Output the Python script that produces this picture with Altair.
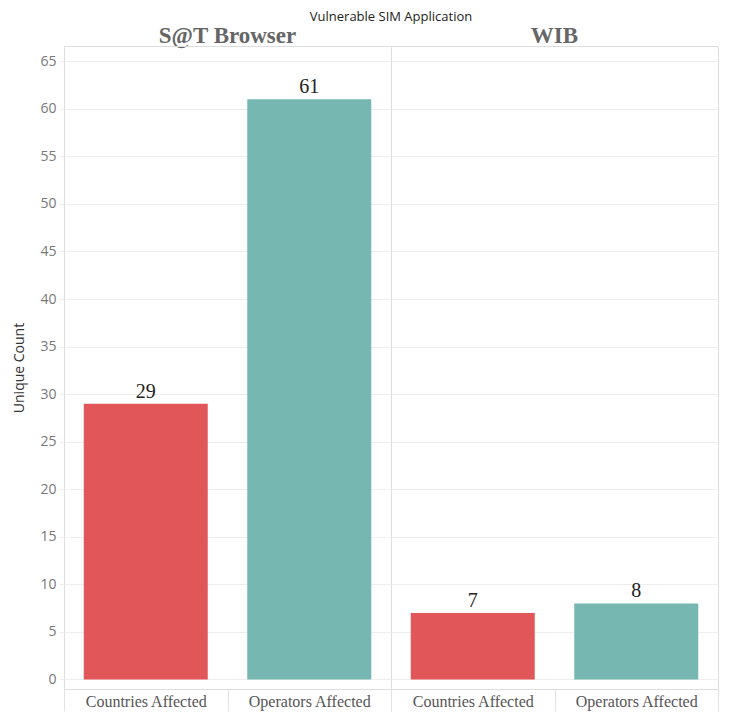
import altair as alt
import pandas as pd

apps = ["S@T Browser", "S@T Browser", "WIB", "WIB"]
metrics = ["Countries Affected", "Operators Affected", "Countries Affected", "Operators Affected"]
counts = [29, 61, 7, 8]

df = pd.DataFrame({"app": apps, "metric": metrics, "count": counts})

SERIF = "Liberation Serif"
SANS = "Open Sans"

x = alt.X(
    "metric:N",
    title=None,
    scale=alt.Scale(paddingInner=0, paddingOuter=0),
    axis=alt.Axis(
        labelAngle=0, labelFont=SERIF, labelFontSize=16, labelColor="#555555",
        labelPadding=-18, domainColor="#cccccc", tickColor="#e2e2e2",
        tickBand="extent", tickSize=22, labelBaseline="top",
    ),
)
y = alt.Y(
    "count:Q",
    title="Unique Count",
    scale=alt.Scale(domain=[-1.0, 66.6], nice=False, zero=False),
    axis=alt.Axis(
        values=list(range(0, 70, 5)), labelFont=SANS, labelFontSize=14,
        labelColor="#777777", titleFont=SANS, titleFontSize=14,
        titleFontWeight="normal", titleColor="#333333", gridColor="#eeeeee",
        domainColor="#d0d0d0", tickColor="#eeeeee", tickSize=5, titlePadding=13,
        labelPadding=3,
    ),
)

bars = alt.Chart().mark_bar(size=124).encode(
    x=x,
    y=y,
    y2=alt.datum(0),
    color=alt.Color(
        "metric:N",
        scale=alt.Scale(domain=["Countries Affected", "Operators Affected"],
                        range=["#E15759", "#76B7B2"]),
        legend=None,
    ),
)
text = alt.Chart().mark_text(
    font=SERIF, fontSize=20, color="#222222",
    baseline="bottom", dy=-2,
).encode(x=x, y=y, text=alt.Text("count:Q"))

chart = alt.layer(bars, text, data=df).properties(
    width=327, height=643
).facet(
    column=alt.Column(
        "app:N",
        sort=["S@T Browser", "WIB"],
        title="Vulnerable SIM Application",
        header=alt.Header(
            titleFont=SANS, titleFontSize=13, titleFontWeight="normal",
            titleColor="#222222", titlePadding=-9,
            labelFont=SERIF, labelFontSize=23, labelFontWeight="bold",
            labelColor="#666666", labelPadding=-2,
        ),
    ),
    spacing=0,
    bounds="flush",
).configure_view(
    stroke="#d8d8d8"
).configure(
    background="white",
    padding={"left": 4, "top": 3, "right": 0, "bottom": 0},
    autosize=alt.AutoSizeParams(type="pad"),
)

chart.save("out.html", embed_options={"renderer": "svg", "actions": False})
